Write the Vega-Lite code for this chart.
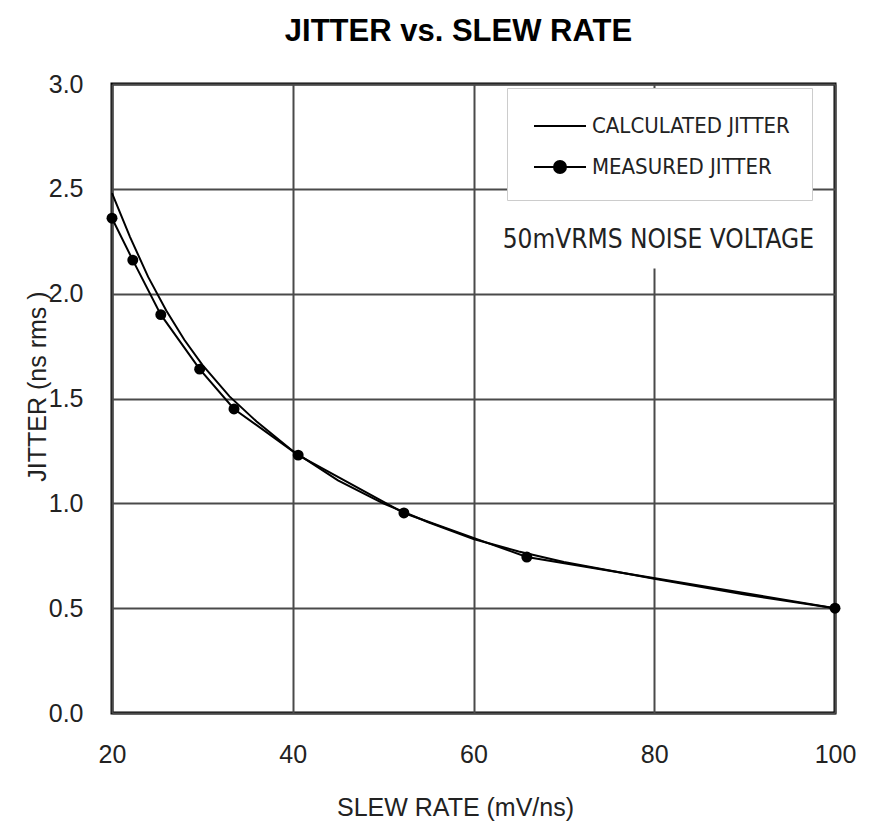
{
  "$schema": "https://vega.github.io/schema/vega-lite/v6.json",
  "width": 723,
  "height": 629,
  "autosize": {"type": "none"},
  "padding": {"left": 112, "top": 84, "right": 43, "bottom": 114},
  "background": "white",
  "title": {
    "text": "JITTER vs. SLEW RATE",
    "font": "Liberation Sans",
    "fontSize": 31,
    "fontWeight": "bold",
    "color": "black",
    "anchor": "middle",
    "frame": "group",
    "dx": -15,
    "offset": 24
  },
  "config": {
    "view": {"stroke": "black", "strokeWidth": 3},
    "axis": {
      "labelFont": "Liberation Sans",
      "labelFontSize": 25,
      "labelColor": "#222222",
      "labelFlush": false,
      "titleFont": "Liberation Sans",
      "titleFontSize": 25,
      "titleFontWeight": "normal",
      "titleColor": "#222222",
      "domain": false,
      "ticks": false,
      "grid": true,
      "gridColor": "#4a4a4a",
      "gridWidth": 2,
      "gridOpacity": 1
    }
  },
  "datasets": {
    "curves": [
      {"series": "CALCULATED JITTER", "slew": 20, "jitter": 2.48},
      {"series": "CALCULATED JITTER", "slew": 22, "jitter": 2.27},
      {"series": "CALCULATED JITTER", "slew": 24, "jitter": 2.08},
      {"series": "CALCULATED JITTER", "slew": 26, "jitter": 1.92},
      {"series": "CALCULATED JITTER", "slew": 28, "jitter": 1.78},
      {"series": "CALCULATED JITTER", "slew": 30, "jitter": 1.66},
      {"series": "CALCULATED JITTER", "slew": 33, "jitter": 1.51},
      {"series": "CALCULATED JITTER", "slew": 36, "jitter": 1.39},
      {"series": "CALCULATED JITTER", "slew": 40, "jitter": 1.25},
      {"series": "CALCULATED JITTER", "slew": 45, "jitter": 1.11},
      {"series": "CALCULATED JITTER", "slew": 50, "jitter": 1.0},
      {"series": "CALCULATED JITTER", "slew": 55, "jitter": 0.91},
      {"series": "CALCULATED JITTER", "slew": 60, "jitter": 0.83},
      {"series": "CALCULATED JITTER", "slew": 65, "jitter": 0.77},
      {"series": "CALCULATED JITTER", "slew": 70, "jitter": 0.72},
      {"series": "CALCULATED JITTER", "slew": 80, "jitter": 0.64},
      {"series": "CALCULATED JITTER", "slew": 90, "jitter": 0.565},
      {"series": "CALCULATED JITTER", "slew": 100, "jitter": 0.5},
      {"series": "MEASURED JITTER", "slew": 20, "jitter": 2.36},
      {"series": "MEASURED JITTER", "slew": 22.3, "jitter": 2.16},
      {"series": "MEASURED JITTER", "slew": 25.4, "jitter": 1.9},
      {"series": "MEASURED JITTER", "slew": 29.7, "jitter": 1.64},
      {"series": "MEASURED JITTER", "slew": 33.5, "jitter": 1.45},
      {"series": "MEASURED JITTER", "slew": 40.6, "jitter": 1.23},
      {"series": "MEASURED JITTER", "slew": 52.3, "jitter": 0.954},
      {"series": "MEASURED JITTER", "slew": 65.9, "jitter": 0.744},
      {"series": "MEASURED JITTER", "slew": 100, "jitter": 0.5}
    ],
    "note": [
      {"slew": 80.45, "jitter": 2.216, "x1": 62.5, "x2": 98.5, "y1": 2.12, "y2": 2.45, "label": "50mVRMS NOISE VOLTAGE"}
    ]
  },
  "layer": [
    {
      "data": {"name": "note"},
      "mark": {"type": "rect", "fill": "white", "stroke": null},
      "encoding": {
        "x": {"field": "x1", "type": "quantitative", "scale": {"domain": [20, 100], "nice": false, "zero": false}},
        "x2": {"field": "x2"},
        "y": {"field": "y1", "type": "quantitative", "scale": {"domain": [0, 3], "nice": false}},
        "y2": {"field": "y2"}
      }
    },
    {
      "data": {"name": "curves"},
      "mark": {"type": "line", "strokeWidth": 2},
      "encoding": {
        "x": {
          "field": "slew", "type": "quantitative",
          "scale": {"domain": [20, 100], "nice": false, "zero": false},
          "axis": {
            "values": [20, 40, 60, 80, 100],
            "title": "SLEW RATE (mV/ns)",
            "labelPadding": 29,
            "titleX": 343,
            "titleY": 102,
            "titleAlign": "center",
            "titleBaseline": "alphabetic"
          }
        },
        "y": {
          "field": "jitter", "type": "quantitative",
          "scale": {"domain": [0, 3], "nice": false},
          "axis": {
            "values": [0, 0.5, 1, 1.5, 2, 2.5, 3],
            "format": ".1f",
            "title": "JITTER (ns rms )",
            "labelPadding": 29,
            "titleAngle": -90,
            "titleX": -67,
            "titleY": 302,
            "titleAlign": "center",
            "titleBaseline": "alphabetic"
          }
        },
        "color": {
          "field": "series", "type": "nominal",
          "scale": {"domain": ["CALCULATED JITTER", "MEASURED JITTER"], "range": ["black", "black"]},
          "legend": {
            "title": null,
            "orient": "none",
            "legendX": 395,
            "legendY": 4,
            "padding": 22,
            "rowPadding": 14,
            "fillColor": "white",
            "strokeColor": "#cccccc",
            "labelFont": "DejaVu Sans Condensed",
            "labelFontSize": 22,
            "labelColor": "#222222",
            "labelOffset": 31,
            "labelLimit": 400,
            "symbolSize": 900,
            "encode": {
              "symbols": {
                "update": {
                  "shape": {"signal": "datum.value === 'MEASURED JITTER' ? 'M-0.733,0H2.733M0.6,0A0.4,0.4,0,1,0,1.4,0A0.4,0.4,0,1,0,0.6,0Z' : 'M-0.733,0H2.733'"},
                  "fill": {"value": "black"},
                  "stroke": {"value": "black"},
                  "strokeWidth": {"value": 2},
                  "size": {"value": 900}
                }
              }
            }
          }
        }
      }
    },
    {
      "data": {"name": "curves"},
      "transform": [{"filter": "datum.series === 'MEASURED JITTER'"}],
      "mark": {"type": "point", "filled": true, "color": "black", "size": 120, "opacity": 1},
      "encoding": {
        "x": {"field": "slew", "type": "quantitative"},
        "y": {"field": "jitter", "type": "quantitative"}
      }
    },
    {
      "data": {"name": "note"},
      "mark": {"type": "text", "font": "DejaVu Sans Condensed", "fontSize": 26, "color": "#222222", "align": "center", "baseline": "alphabetic"},
      "encoding": {
        "x": {"field": "slew", "type": "quantitative"},
        "y": {"field": "jitter", "type": "quantitative"},
        "text": {"field": "label"}
      }
    }
  ]
}
